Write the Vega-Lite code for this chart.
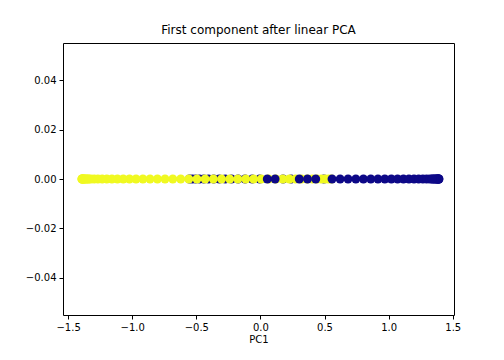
{
  "$schema": "https://vega.github.io/schema/vega-lite/v6.json",
  "width": 391,
  "height": 272,
  "autosize": {"type": "none"},
  "padding": {"left": 63, "top": 43, "right": 50, "bottom": 45},
  "background": "white",
  "title": {"text": "First component after linear PCA", "fontSize": 12, "font": "DejaVu Sans", "fontWeight": "normal", "color": "black", "offset": 6},
  "config": {
    "view": {"stroke": "black", "strokeWidth": 1},
    "axis": {"grid": false, "domain": false, "tickColor": "black", "tickSize": 4, "labelFont": "DejaVu Sans", "labelFontSize": 10, "labelColor": "black", "titleFont": "DejaVu Sans", "titleFontSize": 10, "titleFontWeight": "normal", "titleColor": "black", "labelPadding": 3}
  },
  "data": {"values": [
    {"x": -0.554, "y": 0, "c": 0},
    {"x": -0.5315, "y": 0, "c": 0},
    {"x": -0.5052, "y": 0, "c": 0},
    {"x": -0.4752, "y": 0, "c": 0},
    {"x": -0.4416, "y": 0, "c": 0},
    {"x": -0.4046, "y": 0, "c": 0},
    {"x": -0.3643, "y": 0, "c": 0},
    {"x": -0.3209, "y": 0, "c": 0},
    {"x": -0.2746, "y": 0, "c": 0},
    {"x": -0.2256, "y": 0, "c": 0},
    {"x": -0.174, "y": 0, "c": 0},
    {"x": -0.12, "y": 0, "c": 0},
    {"x": -0.064, "y": 0, "c": 0},
    {"x": -0.0061, "y": 0, "c": 0},
    {"x": 0.1766, "y": 0, "c": 0},
    {"x": 0.2396, "y": 0, "c": 0},
    {"x": 0.4952, "y": 0, "c": 0},
    {"x": 0.554, "y": 0, "c": 1},
    {"x": 0.5315, "y": 0, "c": 1},
    {"x": 0.5052, "y": 0, "c": 1},
    {"x": 0.4752, "y": 0, "c": 1},
    {"x": 0.4416, "y": 0, "c": 1},
    {"x": 0.4046, "y": 0, "c": 1},
    {"x": 0.3643, "y": 0, "c": 1},
    {"x": 0.3209, "y": 0, "c": 1},
    {"x": 0.2746, "y": 0, "c": 1},
    {"x": 0.2256, "y": 0, "c": 1},
    {"x": 0.174, "y": 0, "c": 1},
    {"x": 0.12, "y": 0, "c": 1},
    {"x": 0.064, "y": 0, "c": 1},
    {"x": 0.0061, "y": 0, "c": 1},
    {"x": -0.0535, "y": 0, "c": 1},
    {"x": -0.1145, "y": 0, "c": 1},
    {"x": -0.1766, "y": 0, "c": 1},
    {"x": -0.2396, "y": 0, "c": 1},
    {"x": -0.3032, "y": 0, "c": 1},
    {"x": -0.3672, "y": 0, "c": 1},
    {"x": -0.4313, "y": 0, "c": 1},
    {"x": -0.4952, "y": 0, "c": 1},
    {"x": -0.5587, "y": 0, "c": 1},
    {"x": -0.6216, "y": 0, "c": 1},
    {"x": -0.6835, "y": 0, "c": 1},
    {"x": -0.7442, "y": 0, "c": 1},
    {"x": -0.8035, "y": 0, "c": 1},
    {"x": -0.861, "y": 0, "c": 1},
    {"x": -0.9167, "y": 0, "c": 1},
    {"x": -0.9702, "y": 0, "c": 1},
    {"x": -1.0213, "y": 0, "c": 1},
    {"x": -1.0699, "y": 0, "c": 1},
    {"x": -1.1156, "y": 0, "c": 1},
    {"x": -1.1584, "y": 0, "c": 1},
    {"x": -1.1981, "y": 0, "c": 1},
    {"x": -1.2344, "y": 0, "c": 1},
    {"x": -1.2673, "y": 0, "c": 1},
    {"x": -1.2966, "y": 0, "c": 1},
    {"x": -1.3222, "y": 0, "c": 1},
    {"x": -1.3439, "y": 0, "c": 1},
    {"x": -1.3618, "y": 0, "c": 1},
    {"x": -1.3757, "y": 0, "c": 1},
    {"x": -1.3855, "y": 0, "c": 1},
    {"x": -1.3913, "y": 0, "c": 1},
    {"x": -1.3929, "y": 0, "c": 1},
    {"x": -1.3904, "y": 0, "c": 1},
    {"x": -1.3839, "y": 0, "c": 1},
    {"x": -1.3733, "y": 0, "c": 1},
    {"x": -1.3586, "y": 0, "c": 1},
    {"x": -1.34, "y": 0, "c": 1},
    {"x": 0.0535, "y": 0, "c": 0},
    {"x": 0.1145, "y": 0, "c": 0},
    {"x": 0.3032, "y": 0, "c": 0},
    {"x": 0.3672, "y": 0, "c": 0},
    {"x": 0.4313, "y": 0, "c": 0},
    {"x": 0.5587, "y": 0, "c": 0},
    {"x": 0.6216, "y": 0, "c": 0},
    {"x": 0.6835, "y": 0, "c": 0},
    {"x": 0.7442, "y": 0, "c": 0},
    {"x": 0.8035, "y": 0, "c": 0},
    {"x": 0.861, "y": 0, "c": 0},
    {"x": 0.9167, "y": 0, "c": 0},
    {"x": 0.9702, "y": 0, "c": 0},
    {"x": 1.0213, "y": 0, "c": 0},
    {"x": 1.0699, "y": 0, "c": 0},
    {"x": 1.1156, "y": 0, "c": 0},
    {"x": 1.1584, "y": 0, "c": 0},
    {"x": 1.1981, "y": 0, "c": 0},
    {"x": 1.2344, "y": 0, "c": 0},
    {"x": 1.2673, "y": 0, "c": 0},
    {"x": 1.2966, "y": 0, "c": 0},
    {"x": 1.3222, "y": 0, "c": 0},
    {"x": 1.3439, "y": 0, "c": 0},
    {"x": 1.3618, "y": 0, "c": 0},
    {"x": 1.3757, "y": 0, "c": 0},
    {"x": 1.3855, "y": 0, "c": 0},
    {"x": 1.3913, "y": 0, "c": 0},
    {"x": 1.3929, "y": 0, "c": 0},
    {"x": 1.3904, "y": 0, "c": 0},
    {"x": 1.3839, "y": 0, "c": 0},
    {"x": 1.3733, "y": 0, "c": 0},
    {"x": 1.3586, "y": 0, "c": 0},
    {"x": 1.34, "y": 0, "c": 0}
  ]},
  "mark": {"type": "circle", "size": 80, "opacity": 1},
  "encoding": {
    "x": {"field": "x", "type": "quantitative", "title": "PC1",
          "scale": {"domain": [-1.54, 1.51], "nice": false, "zero": false},
          "axis": {"values": [-1.5, -1.0, -0.5, 0.0, 0.5, 1.0, 1.5], "format": ".1f", "titlePadding": 2}},
    "y": {"field": "y", "type": "quantitative", "title": null,
          "scale": {"domain": [-0.055, 0.055], "nice": false, "zero": false},
          "axis": {"values": [-0.04, -0.02, 0.0, 0.02, 0.04], "format": ".2f"}},
    "color": {"field": "c", "type": "nominal", "legend": null,
              "scale": {"domain": [0, 1], "range": ["#0d0887", "#f0f921"]}}
  }
}
